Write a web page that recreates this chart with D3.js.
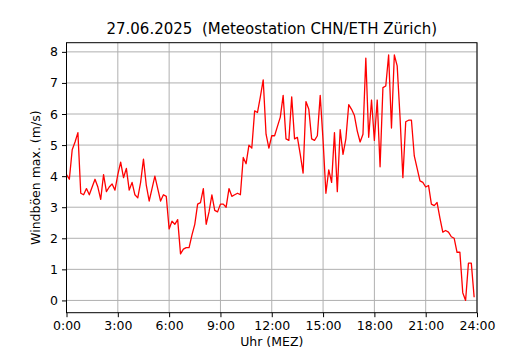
<!DOCTYPE html>
<html><head><meta charset="utf-8">
<script src="https://cdn.jsdelivr.net/npm/d3@7"></script>
<style>body{margin:0;background:#fff;} svg{display:block;} text{font-family:"DejaVu Sans",sans-serif;fill:#000;}</style>
</head><body>
<svg id="c" width="530" height="350"></svg>
<script>
const title = "27.06.2025  (Meteostation CHN/ETH Zürich)";
const xLabel = "Uhr (MEZ)";
const yLabel = "Windböen max. (m/s)";
const xTickHours = [0, 3, 6, 9, 12, 15, 18, 21, 24];
const xTickLabels = ["0:00","3:00","6:00","9:00","12:00","15:00","18:00","21:00","24:00"];
const yTicks = [0,1,2,3,4,5,6,7,8];
// 10-minute values, 0:00 .. 23:50
const gusts = [
  4.05,3.9,4.85,5.1,5.4,3.45,3.4,3.6,3.4,3.65,3.9,3.65,3.25,4.05,3.5,3.65,3.75,3.55,
  4.05,4.45,3.95,4.25,3.55,3.8,3.4,3.3,3.8,4.55,3.7,3.2,3.6,4.0,3.6,3.2,3.4,3.35,
  2.3,2.55,2.45,2.6,1.5,1.65,1.7,1.7,2.1,2.45,3.1,3.15,3.6,2.45,2.85,3.4,2.9,2.85,
  3.1,3.1,3.0,3.6,3.35,3.4,3.45,3.4,4.6,4.4,5.0,4.9,6.1,6.05,6.55,7.1,5.35,4.9,
  5.3,5.3,5.6,5.9,6.6,5.2,5.15,6.55,5.2,5.25,4.7,4.1,6.4,6.15,5.2,5.15,5.3,6.6,
  5.15,3.45,4.2,3.8,5.4,3.5,5.5,4.7,5.2,6.3,6.15,5.95,5.45,5.1,5.35,7.8,5.25,6.45,
  5.15,6.45,4.3,6.85,6.9,7.9,5.55,7.9,7.55,5.9,3.95,5.75,5.8,5.8,4.65,4.25,3.85,3.8,
  3.65,3.7,3.1,3.05,3.15,2.65,2.2,2.25,2.2,2.05,2.0,1.55,1.55,0.25,0.0,1.2,1.2,0.1
];
const hours = gusts.map((_, i) => i / 6);

const svg = d3.select("#c");
const L = 66.5, R = 477, T = 42.7, B = 312.7;
const ymin = d3.min(gusts), ymax = d3.max(gusts), pad = (ymax - ymin) * 0.05;
const x = d3.scaleLinear().domain([0, 24]).range([L, R]);
const y = d3.scaleLinear().domain([ymin - pad, ymax + pad]).range([B, T]);

// grid
const g = svg.append("g");
g.selectAll(".vg").data(xTickHours).enter().append("line")
  .attr("x1", d => x(d)).attr("x2", d => x(d)).attr("y1", T).attr("y2", B)
  .attr("stroke", "#b0b0b0").attr("stroke-width", 1);
g.selectAll(".hg").data(yTicks).enter().append("line")
  .attr("x1", L).attr("x2", R).attr("y1", d => y(d)).attr("y2", d => y(d))
  .attr("stroke", "#b0b0b0").attr("stroke-width", 1);

// line
svg.append("path").datum(gusts)
  .attr("fill", "none").attr("stroke", "#ff0000").attr("stroke-width", 1.3)
  .attr("stroke-linejoin", "round")
  .attr("d", d3.line().x((d, i) => x(hours[i])).y(d => y(d)));

// axes
const xAxis = d3.axisBottom(x).tickValues(xTickHours).tickFormat((d, i) => xTickLabels[i]).tickSize(4.5).tickPadding(4);
const yAxis = d3.axisLeft(y).tickValues(yTicks).tickFormat(d3.format("d")).tickSize(4.5).tickPadding(4);
const gx = svg.append("g").attr("transform", `translate(0,${B})`).call(xAxis);
const gy = svg.append("g").attr("transform", `translate(${L},0)`).call(yAxis);
[gx, gy].forEach(a => {
  a.select(".domain").remove();
  a.selectAll("text").style("font-family", "DejaVu Sans").style("font-size", "12.5px").attr("fill", "#000");
  a.selectAll("line").attr("stroke", "#000");
});
// frame
svg.append("rect").attr("x", L).attr("y", T).attr("width", R - L).attr("height", B - T)
  .attr("fill", "none").attr("stroke", "#000").attr("stroke-width", 1);

svg.append("text").attr("x", (L + R) / 2).attr("y", 34).attr("text-anchor", "middle")
  .style("font-size", "15px").style("white-space", "pre").attr("xml:space", "preserve").text(title);
svg.append("text").attr("x", (L + R) / 2).attr("y", 346).attr("text-anchor", "middle")
  .style("font-size", "12.5px").text(xLabel);
svg.append("text").attr("transform", `translate(40,${(T + B) / 2}) rotate(-90)`).attr("text-anchor", "middle")
  .style("font-size", "12.5px").text(yLabel);
</script>
</body></html>
